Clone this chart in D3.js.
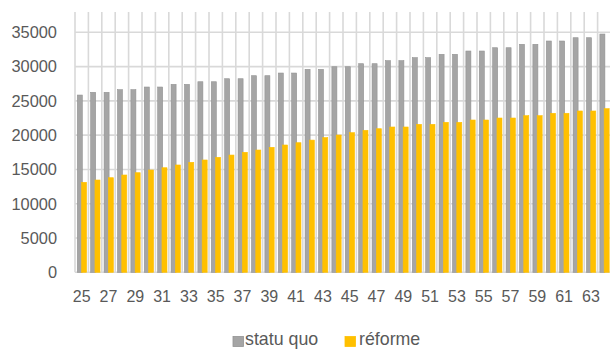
<!DOCTYPE html>
<html>
<head>
<meta charset="utf-8">
<script src="https://cdn.jsdelivr.net/npm/d3@7"></script>
<style>
  html, body { margin: 0; padding: 0; background: #fff; overflow: hidden; }
  svg { display: block; font-family: "Liberation Sans", Arial, sans-serif; }
</style>
</head>
<body>
<svg id="chart" width="610" height="349"></svg>
<script>
const ages = d3.range(25, 65);
const seriesNames = ["statu quo", "réforme"];
const statuQuo = [
  25850,
  26250, 26250, 26630, 26630, 27020, 27020, 27410, 27410, 27790, 27790,
  28230, 28230, 28670, 28670, 29060, 29060, 29600, 29600, 29980, 29980,
  30420, 30420, 30860, 30860, 31300, 31300, 31790, 31790, 32270, 32270,
  32750, 32750, 33250, 33250, 33730, 33730, 34210, 34210,
  34750
];
const reforme = [
  13125, 13460, 13795, 14190, 14525, 14920, 15250, 15650, 16040, 16380,
  16770, 17100, 17500, 17835, 18230, 18565, 18900, 19280, 19650, 20020,
  20360, 20710, 20940, 21190, 21190, 21580, 21580, 21870, 21870, 22210,
  22210, 22500, 22500, 22840, 22840, 23190, 23190, 23525, 23525, 23860
];
const yTicks = [0, 5000, 10000, 15000, 20000, 25000, 30000, 35000];
const xTickLabels = d3.range(25, 65, 2);

const colors = { "statu quo": "#a5a5a5", "réforme": "#ffc000" };
const strokes = { "statu quo": "#939393", "réforme": "#ffc000" };
const textColor = "#595959";
const gridColor = "#d9d9d9";

const svg = d3.select("#chart");
const plotLeft = 75, plotRight = 611, plotTop = 12;

const x = d3.scaleBand().domain(ages).range([plotLeft, plotRight]).padding(0);
const bw = x.bandwidth();
const x1 = d3.scaleBand().domain(seriesNames).range([0.17 * bw, 0.81 * bw]).padding(0);
const barW = x1.bandwidth() * 1.17;
const y = d3.scaleLinear().domain([0, 35000]).range([272.3, 32.3]);

// vertical gridlines at category boundaries
const g = svg.append("g");
g.selectAll("line.v").data(ages).join("line")
  .attr("x1", d => x(d)).attr("x2", d => x(d))
  .attr("y1", plotTop).attr("y2", y(0))
  .attr("stroke", gridColor).attr("stroke-width", 1.6);
g.append("line")
  .attr("x1", plotRight).attr("x2", plotRight).attr("y1", plotTop).attr("y2", y(0))
  .attr("stroke", gridColor).attr("stroke-width", 1.6);

// horizontal gridlines
g.selectAll("line.h").data(yTicks).join("line")
  .attr("x1", plotLeft).attr("x2", 612)
  .attr("y1", d => y(d)).attr("y2", d => y(d))
  .attr("stroke", gridColor).attr("stroke-width", 1.6);

// y labels
svg.append("g").selectAll("text").data(yTicks).join("text")
  .attr("x", 57).attr("y", d => y(d)).attr("dy", "0.36em")
  .attr("text-anchor", "end").attr("font-size", 16.4).attr("fill", textColor)
  .text(d => d);

// x labels
svg.append("g").selectAll("text").data(xTickLabels).join("text")
  .attr("x", d => x(d) + bw / 2).attr("y", 302)
  .attr("text-anchor", "middle").attr("font-size", 16).attr("fill", textColor)
  .text(d => d);

// bars
const data = [
  { name: "statu quo", values: statuQuo },
  { name: "réforme", values: reforme }
];
data.forEach(s => {
  svg.append("g").selectAll("rect").data(s.values).join("rect")
    .attr("x", (d, i) => x(ages[i]) + x1(s.name))
    .attr("width", barW)
    .attr("y", d => y(d))
    .attr("height", d => y(0) - y(d))
    .attr("fill", colors[s.name])
    .attr("stroke", strokes[s.name])
    .attr("stroke-width", 0.6);
});

// legend
const legendPos = [{ name: "statu quo", mx: 233, tx: 245 }, { name: "réforme", mx: 345, tx: 359 }];
const lg = svg.append("g");
legendPos.forEach(l => {
  lg.append("rect").attr("x", l.mx).attr("y", 336.5).attr("width", 10.5).attr("height", 10)
    .attr("fill", colors[l.name]).attr("stroke", strokes[l.name]).attr("stroke-width", 0.8);
  lg.append("text").attr("x", l.tx).attr("y", 345)
    .attr("font-size", 17.8).attr("fill", textColor).text(l.name);
});
</script>
</body>
</html>
